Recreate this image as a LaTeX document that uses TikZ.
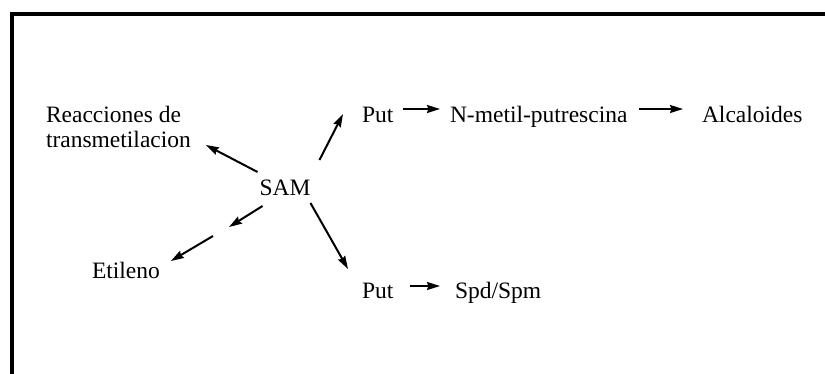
\documentclass[tikz,border=0pt]{standalone}
\usepackage{fontspec}
\setmainfont{Liberation Serif}
\usetikzlibrary{arrows.meta,calc}
\tikzset{
  lbl/.style={inner sep=0pt, outer sep=0pt, anchor=base west, font=\fontsize{23.5}{25}\selectfont},
  arr/.style={line width=2pt, -{Stealth[length=13pt,width=8pt,inset=1.5pt]}},
  frame/.style={line width=4pt, miter limit=10}
}
\begin{document}
\begin{tikzpicture}[x=1pt,y=-1pt]
  \useasboundingbox (0,0) rectangle (825,373);
  % open frame: left and top edges
  \draw[frame] (12,380) -- (12,13.7) -- (830,13.7);

  % labels
  \node[lbl] (reac)  at (46,122) {Reacciones de};
  \node[lbl] (reac2) at (46,147) {transmetilacion};
  \node[lbl, anchor=base] (sam) at (285,195) {SAM};
  \node[lbl] (put1) at (362,122) {Put};
  \node[lbl] (nmp)  at (450,122) {N-metil-putrescina};
  \node[lbl] (alc)  at (702,122) {Alcaloides};
  \node[lbl] (eti)  at (92,278) {Etileno};
  \node[lbl] (put2) at (362,298) {Put};
  \node[lbl] (spd)  at (455,298) {Spd/Spm};

  % break in the SAM -> Etileno arrow
  \coordinate (brk1) at (229,227);
  \coordinate (brk2) at (213,236);

  % connectors
  \draw[arr] ($(sam.base west)+(-2,-23)$) -- ($(reac2.base east)+(15,-2)$);
  \draw[arr] ($(sam.base east)+(9,-35)$) -- ($(put1.base west)+(-19,-8)$);
  \draw[arr] ($(sam.base west)+(3,11)$) -- (brk1);
  \draw[arr] (brk2) -- ($(eti.base east)+(11,-17)$);
  \draw[arr] ($(sam.base east)+(0,8)$) -- ($(put2.base west)+(-14,-29)$);

  \draw[arr] ($(put1.base east)+(10,-13)$) -- ($(nmp.base west)+(-10,-13)$);
  \draw[arr] ($(nmp.base east)+(12,-13)$) -- ($(alc.base west)+(-19,-13)$);
  \draw[arr] ($(put2.base east)+(17,-12)$) -- ($(spd.base west)+(-15,-12)$);
\end{tikzpicture}
\end{document}
